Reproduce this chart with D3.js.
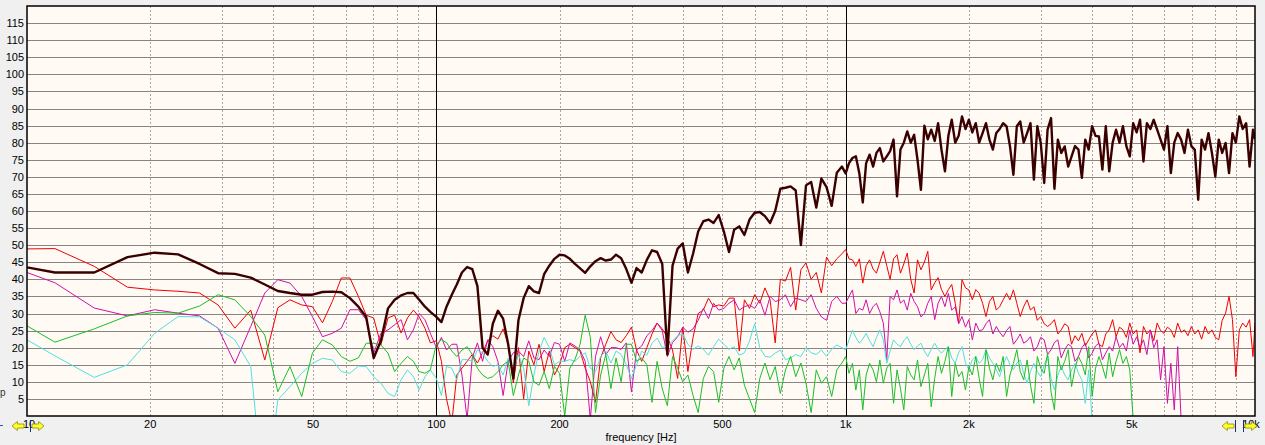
<!DOCTYPE html>
<html><head><meta charset="utf-8">
<script src="https://cdn.jsdelivr.net/npm/d3@7"></script>
<style>
html,body{margin:0;padding:0;background:#f0f0f0;overflow:hidden;}
svg{display:block;font-family:"Liberation Sans",Arial,sans-serif;}
</style></head><body>
<svg id="chart" width="1265" height="445"></svg>
<script>
// ---------- frequency grid (Hz) ----------
const freqLow = [10, 11.7, 14.6, 17.6, 20.5, 23.4, 26.4, 29.3, 32.2, 35.2, 38.1, 41.0, 43.9, 46.9, 49.8, 52.7, 55.7, 58.6, 61.5, 64.5, 67.4, 70.3, 73.2, 76.2, 79.1, 82.0, 85.0, 87.9, 90.8, 93.8, 96.7];
const freqMid = [100, 102.9, 105.9, 109.1, 112.2, 115.5, 118.9, 122.4, 126.0, 129.7, 133.5, 137.4, 141.4, 145.6, 149.8, 154.2, 158.7, 163.4, 168.2, 173.1, 178.2, 183.4, 188.8, 194.3,
  200, 205.9, 211.9, 218.1, 224.5, 231.0, 237.8, 244.8, 252.0, 259.4, 267.0, 274.8, 282.8, 291.1, 299.7, 308.4, 317.5, 326.8, 336.4, 346.2, 356.4, 366.8, 377.6, 388.6,
  400, 411.7, 423.8, 436.2, 449.0, 462.2, 475.7, 489.6, 504.0, 518.8, 534.0, 549.6, 565.7, 582.3, 599.3, 616.9, 635.0, 653.6, 672.7, 692.5, 712.7, 733.6, 755.1, 777.3,
  800, 823.5, 847.6, 872.4, 898.0, 924.3, 951.4, 979.3];
const freqHigh = [1000, 1019, 1039, 1059, 1080, 1101, 1122, 1144, 1167, 1189, 1212, 1236, 1260, 1284, 1309, 1335, 1361, 1387, 1414, 1442, 1470, 1498, 1527, 1557, 1587, 1618, 1650, 1682, 1714, 1748, 1782, 1816, 1852, 1888, 1924, 1962,
  2000, 2039, 2079, 2119, 2160, 2202, 2245, 2289, 2333, 2378, 2425, 2472, 2520, 2569, 2619, 2670, 2722, 2775, 2828, 2883, 2939, 2996, 3055, 3114, 3175, 3236, 3299, 3363, 3429, 3496, 3564, 3633, 3704, 3776, 3849, 3924,
  4000, 4078, 4157, 4238, 4320, 4404, 4490, 4577, 4666, 4757, 4850, 4944, 5040, 5138, 5238, 5340, 5444, 5550, 5657, 5767, 5879, 5993, 6110, 6229, 6350, 6473, 6599, 6727, 6858, 6992, 7127, 7266, 7407, 7551, 7698, 7848,
  8000, 8156, 8314, 8476, 8641, 8809, 8980, 9155, 9333, 9514, 9699, 9888, 10000];
const freq = freqLow.concat(freqMid, freqHigh);

// ---------- series values (dB) ----------
const darkTrace = [
  43.5, 42, 42, 46.5, 47.8, 47.3, 44.5, 41.8, 41.6, 40.5, 38.5, 36.6, 36, 35.5, 35.5, 36.3, 36.4, 36.2, 34.5, 32, 29, 17, 22, 31.5, 34, 35.3, 36, 36, 34, 32, 30.5,
  29, 27.5, 32, 35.5, 38.5, 42, 43.6, 43, 38, 20, 18, 27, 30.8, 28.5, 21, 11, 28, 34.5, 38, 36.5,
  36, 41.5, 44, 46, 47.2, 47, 46, 44.5, 43.2, 41.9, 43.8, 45.3, 46.2, 45.5, 45.8, 47.2, 46.2, 43, 39, 43.3,
  42, 45.7, 48.5, 48, 44.5, 18, 44, 49, 50.5, 42, 47.5, 54, 57, 57.5, 56.5, 58.8, 54, 48, 54.5, 55.5,
  53, 57.5, 59.5, 59.7, 58.5, 56.5, 60, 66.5, 66.8, 67.2, 66, 50, 67.5, 68.5, 61, 69.5, 67, 61.5, 71.2, 73,
  71, 74, 75.5, 76, 71, 62.5, 74, 76.5, 73, 77, 78.4, 74.5, 76, 77.5, 80.9, 64.3, 78, 80, 83.3, 80,
  82.3, 75, 66.2, 85, 81, 83.8, 80.5, 85.7, 78, 71.6, 82, 86.7, 80, 82, 87.7, 84, 86.7, 83, 85.7, 80,
  82.8, 85.7, 80.9, 78, 82.8, 84, 85.7, 84.8, 79, 70.6, 84.8, 86.2, 80, 82.8, 85.7, 69.2, 84.8, 80, 68.2, 83.8,
  87.2, 66.5, 80.9, 77, 78.9, 73, 76, 79, 78, 69.7, 80.9, 78, 84.8, 82, 81.8, 72.1, 84.8, 71.6, 80, 83.8,
  80, 84.8, 79, 76, 85.7, 83, 86.7, 74.5, 85.7, 84, 86.7, 83.8, 80.9, 78, 84.8, 71.1, 80, 82.8, 80.9, 77,
  83.8, 79, 77.9, 63.3, 80.9, 78, 82.8, 77, 70.1, 80.9, 77, 79.9, 71.1, 82.8, 80, 87.7, 84, 85.7, 73, 83.8, 81];

const redTrace = [
  48.9, 49, 43.8, 37.7, 36.9, 36.5, 36, 32.5, 25.7, 31, 16.4, 31.7, 34, 32.5, 32, 27.3, 33.5, 40.4, 40.4, 35, 29.5, 28.7, 20.8, 28.7, 29.5, 24.3, 28.7, 31, 29, 25.7, 21.4,
  22, 16, 5, -2, 12, 14, 16, 18, 15.5, 18.5, 22, 23.5, 22.5, 25.5, 21, 9.7, 20, 5, 19, 15,
  21, 13, 19, 12, 15, 20, 21, 20, 19, 14, 10, 4, 17, 21, 24.7, 22.3, 21.5, 23.5, 26, 19.3,
  16, 20, 24, 27.2, 25.5, 23, 19.3, 11, 26, 13, 23, 30, 31, 34.5, 32, 32.5, 32.2, 34.5, 34.5, 19,
  34, 31.5, 35.5, 33, 37.5, 34, 21.4, 40, 39.5, 43.5, 31, 42.8, 44.8, 40, 42, 36, 46.5, 44, 46, 47.5,
  48.7, 46, 45.7, 43.8, 46, 38.9, 44, 45.7, 43, 41.8, 45, 48.2, 44, 40, 46, 47.2, 41.8, 44.5, 47.7, 40,
  36, 45.7, 42.8, 45, 48.2, 36.9, 39, 40.5, 37, 35, 37, 38.5, 33, 27.2, 39.9, 37.5, 36.9, 34, 37, 35.9,
  33, 29.1, 33.5, 35, 31, 32, 34, 35.9, 34, 36.9, 33, 29.1, 32, 34, 31, 32, 28, 29.1, 27, 26.2,
  27, 28.2, 24, 25.2, 27, 26.2, 21, 23.5, 22, 24.2, 20.5, 22.3, 24, 25.2, 21, 20.3, 24, 25.2, 28.2, 23.2,
  26, 25.2, 23, 27.2, 24, 25.2, 18.5, 26.2, 24, 25.2, 22, 27.2, 25, 24.2, 26, 25.2, 23, 27.2, 24.5, 25.2,
  23.5, 26.2, 24, 25.2, 22.5, 26.2, 24, 25.2, 23, 22.3, 28, 30.1, 35, 28.2, 11.5, 25.2, 27.2, 26, 28.2, 17.4, 27.2];

const magentaTrace = [
  42, 39, 31.6, 29.3, 31.1, 30.1, 29.3, 25.7, 15.4, 26.2, 36, 39.9, 38.9, 35, 29.1, 23.2, 24.2, 25.7, 31.1, 31.1, 28.2, 18.4, 24.2, 25.2, 26.7, 28.2, 22.3, 25.2, 30, 28.2, 24.2,
  20, 23, 19.3, 21, 21, 12, -1, 17, 21.4, 16, 22.3, 20.3, 16, 6, 16, 18.5, 19, 17.4, 22, 17,
  16.5, 19.3, 17.4, 21.5, 21, 16, 21.4, 20.5, 19.3, 16, -1, 17.4, 23.2, 18, 20, 20, 19.5, 21.4, 7, 19.3,
  20.5, 23.5, 25, 27.2, 25, 17.4, 21.5, 23.2, 26, 24.5, 25.5, 28, 31.5, 28.5, 33, 31, 31.5, 33, 34, 31,
  32, 32.5, 31.5, 34, 29.5, 35, 33.5, 34, 35.5, 32, 34.5, 34, 33.5, 35.5, 31.5, 29, 28, 33.5, 35, 33,
  33, 35, 36.9, 30, 31.5, 31, 34, 30, 32, 33, 30.5, 27.2, 16.4, 35, 34, 36.9, 33, 34, 31, 35.9,
  33.5, 32, 29, 30, 33, 35, 28.2, 33, 35, 32, 35.9, 31, 32, 27, 29.1, 26, 28.2, 22.3, 27.2, 25,
  25.2, 27, 28.2, 24, 26.2, 24.5, 23.2, 25, 26.2, 21, 22.3, 24, 21.3, 22, 23.2, 19, 20.3, 23, 22.3, 18,
  19.4, 21.5, 22.3, 17, 19.4, 21, 20.3, 16, 17.4, 20, 21.3, 17, 18.4, 20.5, 21.3, 16.5, 18.4, 20.3, 19, 23.2,
  20, 21.3, 19, 25.2, 21, 23.2, 20, 22.3, 18, 25.2, 20, 22.3, 10.6, 20.3, 3.7, 15.4, 1.8, 20.3, -1];

const greenTrace = [
  26.4, 21.6, 25.5, 29.3, 30.3, 30.1, 32.2, 35.5, 34, 29.1, 23.7, 7.1, 14.5, 5.7, 18.4, 22.3, 20.8, 17.4, 16, 17, 21.3, 21.3, 20.8, 18.4, 13, 15.4, 17.4, 16, 13, 12.5, 13.5,
  21, 22.3, 21.5, 19, 17.4, 19.3, 20.3, 18, 14, 12, 11, 11.5, 13, 15, 16, 6, 12, 17, 16, 10,
  9, 13, 8, 14.5, 12.5, 0, 14, 16.5, 21, 29.5, 23, 1, 12, 18, 8, 17, 10, 21, 21, 16,
  17, 15, 4, 16, 8, 3, 17.4, 14, 10, 12, 6, 1, 11, 14.5, 13, 4, 14, 17.4, 13.5, 17,
  9, 5, 1, 11, 15.5, 10.6, 14.5, 6.6, 13.5, 17.4, 11.5, 15.5, 9.6, 1, 13.5, 9.6, 11.5, 5.7, 13.5, 15.5,
  17.4, 12.5, 15.4, 7.6, 13.5, 1.8, 12, 15.4, 13.5, 10, 16.4, 9.6, 14, 15.4, 3.7, 13.5, 8, 1.8, 14.5, 12,
  10.6, 16.4, 8.6, 12, 15.4, 2.7, 11, 17.4, 12.5, 16, 20.3, 5.7, 15.4, 11.5, 13, 7.6, 14.5, 12, 17.4, 11,
  5.7, 19.4, 14, 10.6, 15.4, 13, 17.4, 5.7, 12, 15.4, 19.4, 13, 10.6, 16.4, 9, 3.7, 17.4, 14, 12.5, 18.4,
  7, 1.8, 17.4, 13.5, 16, 19.4, 8.6, 14, 17.4, 15.4, 12, 20.3, 5.7, 14, 17.4, 14.5, 11, 18.4, 11.5, 16,
  19.4, 15.4, 17.4, 13.5, -1];

const cyanTrace = [
  22.3, 17.6, 11.3, 15, 24.2, 29.1, 29, 25.7, 22.3, 14.5, -26, 4.7, 8.6, 12.5, 15.4, 16.9, 16.4, 13, 12.5, 14.6, 14.5, 11.5, 9.6, 6.6, 5.7, 10.6, 13.5, 11.5, 7.6, 11.5, 13.5,
  11, 6, 14.5, 14, 10.6, 16.5, 16.5, 16, 19.3, 18.5, 16, 14.5, 15, 12, 17, 13.5, 18, 14, 3, 12,
  19, 23, 20, 15, 16, 16, 16.5, 16, 17.5, 18.5, 14, 13, 17.4, 19, 15.5, 19, 18, 15, 11, 15,
  19, 17.8, 21.3, 22.8, 20, 20.5, 22, 23.5, 24, 21, 19.5, 20.5, 19.5, 17.8, 20.3, 22.5, 21, 19.5, 20.3, 17.8,
  18.5, 22, 27, 20, 17.5, 17.2, 18.4, 19.3, 16.5, 17, 18, 17.4, 20, 18.5, 18, 19.3, 17.5, 19.5, 20.8, 20,
  19.3, 22.3, 25.2, 23, 21.3, 22.5, 24.2, 22, 20.3, 23, 25.2, 22.3, 15.4, 19, 22.3, 21, 20.3, 22, 23.2, 21,
  19.4, 20.5, 21.3, 19, 17.4, 19.5, 21.3, 19.5, 18.4, 19.5, 20.3, 17, 15.4, 18.5, 20.3, 15.5, 13.5, 16.5, 17.4, 15.4,
  16.5, 19.4, 17, 15.4, 13.5, 11.5, 15, 17.4, 15, 13.5, 15.5, 16.4, 12.5, 9.6, 13, 15.4, 13, 11.5, 15, 17.4,
  11, 7.6, 12, 14.5, 12, 10.6, 13.5, 15.4, 12.5, 10.6, 3.7, 13.5, -1];

// ---------- axes ----------
const yTicks = [5, 10, 15, 20, 25, 30, 35, 40, 45, 50, 55, 60, 65, 70, 75, 80, 85, 90, 95, 100, 105, 110, 115];
const xMinorGrid = [20, 30, 40, 50, 60, 70, 80, 90, 200, 300, 400, 500, 600, 700, 800, 900, 2000, 3000, 4000, 5000, 6000, 7000, 8000, 9000];
const xMajorGrid = [100, 1000];
const xTicks = [20, 50, 100, 200, 500, 1000, 2000, 5000];
const xTickLabels = ["20", "50", "100", "200", "500", "1k", "2k", "5k"];
const xAxisTitle = "frequency [Hz]";

const seriesList = [
  {name: "red", values: redTrace, color: "#f00000", width: 1},
  {name: "magenta", values: magentaTrace, color: "#d010a8", width: 1},
  {name: "cyan", values: cyanTrace, color: "#50e0e0", width: 1},
  {name: "green", values: greenTrace, color: "#18c028", width: 1},
  {name: "dark", values: darkTrace, color: "#3a0000", width: 2.4}
];

const L = 27, R = 1255, T = 6, B = 416;
const svg = d3.select("#chart");
const x = d3.scaleLog().domain([10, 10000]).range([L, R]);
const y = d3.scaleLinear().domain([0, 120]).range([B, T]);

svg.append("rect").attr("width", 1265).attr("height", 445).attr("fill", "#f0f0f0");
svg.append("rect").attr("x", L).attr("y", T).attr("width", R - L).attr("height", B - T).attr("fill", "#fffaf4");

svg.append("defs").append("clipPath").attr("id", "plotclip")
  .append("rect").attr("x", L).attr("y", T).attr("width", R - L).attr("height", B - T);

const grid = svg.append("g");
grid.selectAll("line.h").data(yTicks).join("line")
  .attr("x1", L).attr("x2", R)
  .attr("y1", d => Math.round(y(d)) + 0.5).attr("y2", d => Math.round(y(d)) + 0.5)
  .attr("stroke", "#8a8480").attr("stroke-width", 1);
grid.selectAll("line.v").data(xMinorGrid).join("line")
  .attr("x1", d => Math.round(x(d)) + 0.5).attr("x2", d => Math.round(x(d)) + 0.5)
  .attr("y1", T).attr("y2", B)
  .attr("stroke", "#a8a8a8").attr("stroke-width", 1).attr("stroke-dasharray", "2,2");
grid.selectAll("line.m").data(xMajorGrid).join("line")
  .attr("x1", d => Math.round(x(d)) + 0.5).attr("x2", d => Math.round(x(d)) + 0.5)
  .attr("y1", T).attr("y2", B)
  .attr("stroke", "#000").attr("stroke-width", 1);

const plot = svg.append("g").attr("clip-path", "url(#plotclip)");
seriesList.forEach(s => {
  const pts = freq.map((f, i) => ({f: f, v: s.values[i]}));
  const line = d3.line()
    .defined(d => d.v !== undefined && d.v !== null)
    .x(d => x(d.f)).y(d => y(d.v));
  plot.append("path").datum(pts)
    .attr("fill", "none").attr("stroke", s.color)
    .attr("stroke-width", s.width).attr("stroke-linejoin", "round")
    .attr("d", line);
});

// frame
svg.append("rect").attr("x", L).attr("y", T).attr("width", R - L).attr("height", B - T)
  .attr("fill", "none").attr("stroke", "#000").attr("stroke-width", 1.5);

// y labels
svg.append("g").selectAll("text").data(yTicks).join("text")
  .attr("x", 24).attr("y", d => y(d) + 4)
  .attr("text-anchor", "end").attr("font-size", 11).attr("fill", "#000")
  .text(d => d);

// x labels
svg.append("g").selectAll("text").data(xTicks).join("text")
  .attr("x", d => x(d)).attr("y", 428)
  .attr("text-anchor", "middle").attr("font-size", 11).attr("fill", "#000")
  .text((d, i) => xTickLabels[i]);

svg.append("text").attr("x", (L + R) / 2).attr("y", 441)
  .attr("text-anchor", "middle").attr("font-size", 11).attr("fill", "#000").text(xAxisTitle);

// end labels with scroll arrows
svg.append("text").attr("x", x(10) + 2).attr("y", 428).attr("text-anchor", "middle")
  .attr("font-size", 11).attr("fill", "#000").text("10");
svg.append("text").attr("x", x(10000) - 4).attr("y", 428).attr("text-anchor", "middle")
  .attr("font-size", 11).attr("fill", "#000").text("10k");

function arrow(x0, dir) {
  const w = 12 * dir;
  const p = [[x0, 426], [x0 - w * 0.45, 421.5], [x0 - w * 0.45, 424], [x0 - w, 424], [x0 - w, 428], [x0 - w * 0.45, 428], [x0 - w * 0.45, 430.5]];
  svg.append("polygon").attr("points", p.map(q => q.join(",")).join(" "))
    .attr("fill", "#ffff30").attr("stroke", "#8c8c00").attr("stroke-width", 0.8);
}
arrow(12, -1);
svg.append("line").attr("x1", 30.5).attr("x2", 30.5).attr("y1", 420).attr("y2", 432).attr("stroke", "#1a2a8a").attr("stroke-width", 1);
arrow(44, 1);
arrow(1222, -1);
svg.append("line").attr("x1", 1235.5).attr("x2", 1235.5).attr("y1", 420).attr("y2", 432).attr("stroke", "#1a2a8a").attr("stroke-width", 1);
svg.append("line").attr("x1", 1243.5).attr("x2", 1243.5).attr("y1", 420).attr("y2", 432).attr("stroke", "#1a2a8a").attr("stroke-width", 1);
arrow(1257, 1);

// small fragments at the left edge
svg.append("text").attr("x", 0).attr("y", 396).attr("font-size", 10).attr("fill", "#333").text("p");
svg.append("line").attr("x1", 0).attr("x2", 3).attr("y1", 425.5).attr("y2", 425.5).attr("stroke", "#3050c0").attr("stroke-width", 1);
</script>
</body></html>
